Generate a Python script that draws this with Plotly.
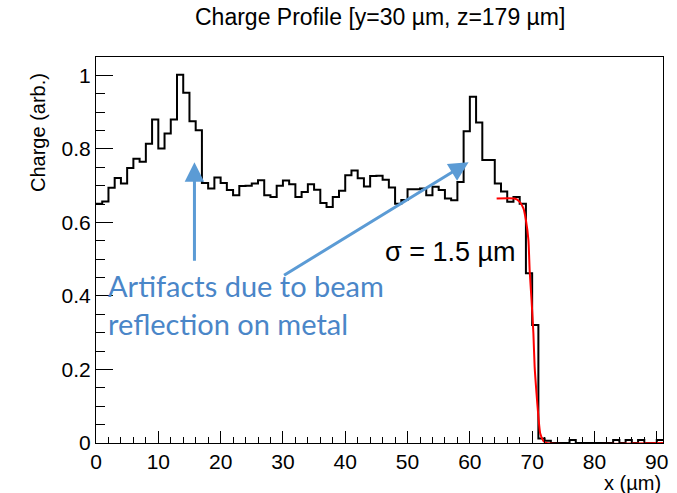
import plotly.graph_objects as go

# ---- data ----
bin_low = 0.0
bin_width = 1.0
charge = [
    0.651, 0.657, 0.694, 0.721, 0.706, 0.748, 0.773, 0.765, 0.814, 0.880,
    0.801, 0.842, 0.880, 1.002, 0.953, 0.875, 0.851, 0.707, 0.692, 0.722,
    0.707, 0.688, 0.674, 0.699, 0.700, 0.706, 0.715, 0.674, 0.669, 0.700,
    0.714, 0.704, 0.669, 0.683, 0.704, 0.689, 0.653, 0.642, 0.669, 0.686,
    0.728, 0.741, 0.720, 0.698, 0.726, 0.727, 0.716, 0.695, 0.651, 0.661,
    0.690, 0.690, 0.692, 0.674, 0.697, 0.688, 0.665, 0.660, 0.710, 0.848,
    0.942, 0.872, 0.770, 0.770, 0.706, 0.684, 0.656, 0.669, 0.651, 0.462,
    0.321, 0.012, 0.006, 0.0, 0.0, 0.0, 0.008, 0.0, 0.0, 0.0,
    0.0, 0.0, 0.0, 0.008, 0.0, 0.008, 0.0, 0.008, 0.0, 0.0,
    0.008,
]
fit_x = [64.3, 67.2, 68.0, 68.6, 69.0, 69.4, 69.6, 69.9, 70.2, 70.4,
         70.7, 71.0, 71.3, 71.8, 72.3, 91.0]
fit_y = [0.665, 0.665, 0.656, 0.638, 0.606, 0.552, 0.470, 0.389, 0.298, 0.207,
         0.135, 0.072, 0.026, 0.006, 0.0, 0.0]

x_title = "x (µm)"
y_title = "Charge (arb.)"
title = "Charge Profile [y=30 µm, z=179 µm]"
sigma_label = "σ = 1.5 µm"
artifact_label = "Artifacts due to beam<br>reflection on metal"

# ---- build step histogram ----
edges = [bin_low + i * bin_width for i in range(len(charge) + 1)]
step_y = charge + [charge[-1]]

fig = go.Figure()
fig.add_trace(go.Scatter(x=edges, y=step_y, mode="lines", line_shape="hv",
                         line=dict(color="black", width=2), showlegend=False,
                         hoverinfo="skip"))
fig.add_trace(go.Scatter(x=fit_x, y=fit_y, mode="lines", line_shape="spline",
                         line=dict(color="#ff0000", width=2, smoothing=0.6),
                         showlegend=False, hoverinfo="skip"))

font_family = "Liberation Sans, Arial, sans-serif"
axis_common = dict(showline=True, linecolor="black", linewidth=1, mirror=True,
                   ticks="inside", tickcolor="black", showgrid=False,
                   zeroline=False, tickfont=dict(family=font_family, size=21, color="black"))

fig.update_xaxes(range=[0, 91], dtick=10, tick0=0, ticklen=12,
                 minor=dict(ticks="inside", dtick=2, ticklen=6, tickcolor="black"),
                 **axis_common)
fig.update_yaxes(range=[0, 1.05], dtick=0.2, tick0=0, ticklen=17,
                 minor=dict(ticks="inside", dtick=0.05, ticklen=9, tickcolor="black"),
                 **axis_common)

blue = "#5b9bd5"
annotations = [
    dict(text=title, xref="paper", yref="paper", x=0.5, y=1.104, showarrow=False,
         xanchor="center", yanchor="middle",
         font=dict(family=font_family, size=23, color="black")),
    dict(text=y_title, xref="paper", yref="paper", x=-0.101, y=0.805, textangle=-90,
         showarrow=False, xanchor="center", yanchor="middle",
         font=dict(family=font_family, size=20, color="black")),
    dict(text=x_title, xref="paper", yref="paper", x=1.0, y=-0.104, showarrow=False,
         xanchor="right", yanchor="middle",
         font=dict(family=font_family, size=20, color="black")),
    dict(text=sigma_label, xref="x", yref="y", x=46.0, y=0.519, showarrow=False,
         xanchor="left", yanchor="middle",
         font=dict(family=font_family, size=27, color="black")),
    dict(text=artifact_label, xref="x", yref="y", x=1.6, y=0.378, showarrow=False,
         xanchor="left", yanchor="middle", align="left",
         font=dict(family="Lato, Open Sans, sans-serif", size=29, color="#4a86c8")),
    dict(text="", xref="x", yref="y", x=15.8, y=0.764, ax=0, ay=100,
         showarrow=True, arrowhead=2, arrowsize=1.3, arrowwidth=3, arrowcolor=blue),
    dict(text="", xref="x", yref="y", x=59.8, y=0.764, ax=-186, ay=114,
         showarrow=True, arrowhead=2, arrowsize=1.3, arrowwidth=3, arrowcolor=blue),
]

fig.update_layout(width=677, height=493, margin=dict(l=96, r=9, t=57, b=50),
                  plot_bgcolor="white", paper_bgcolor="white",
                  annotations=annotations)

fig.write_html("out.html")
